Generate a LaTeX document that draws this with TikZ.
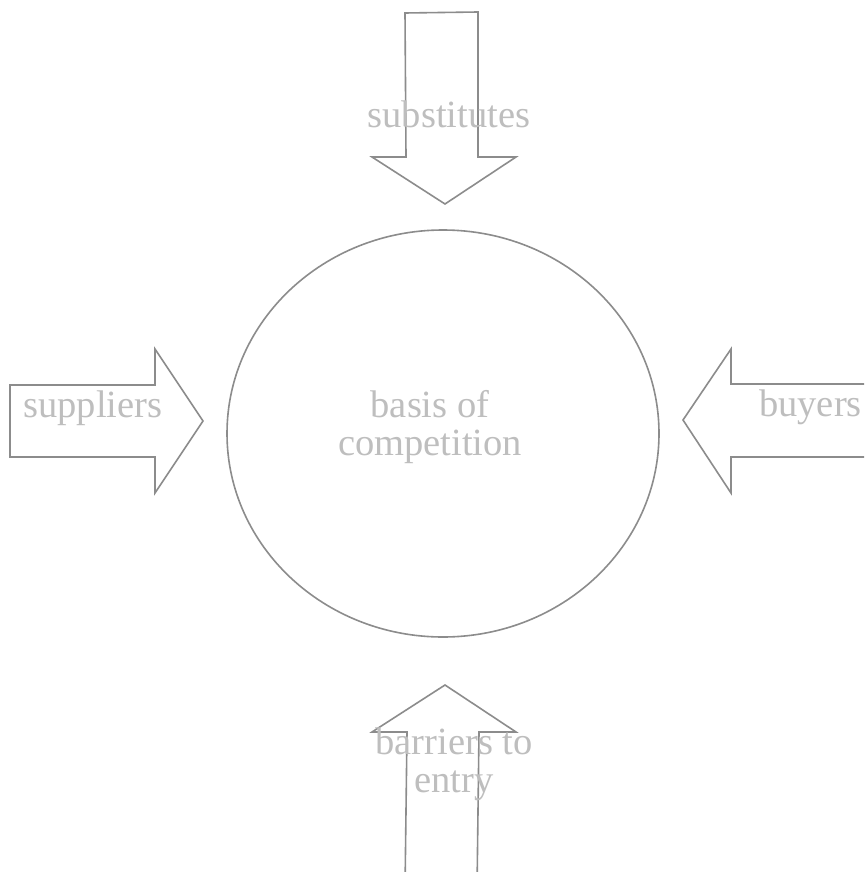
\documentclass[tikz,border=0pt]{standalone}
\usepackage{fontspec}
\setmainfont{Liberation Serif}
\usetikzlibrary{shapes.geometric}
\definecolor{forceline}{RGB}{140,140,140}
\definecolor{forcetext}{RGB}{190,190,190}
\tikzset{
  forcearrow/.style={draw=forceline,line width=1.6pt,line join=miter,fill=white},
  forcelabel/.style={font=\fontsize{38.5}{38}\selectfont,text=forcetext,inner sep=0pt,align=center},
}

\begin{document}
\begin{tikzpicture}[x=1pt,y=-1pt]
  \fill[white] (0,0) rectangle (864,872);
  \useasboundingbox (0,0) rectangle (864,872);
  \clip (0,0) rectangle (864,872);
  % central market
  \node[draw=forceline,line width=1.6pt,ellipse,minimum width=432pt,minimum height=407pt,
        inner sep=0pt] (market) at (443,433.5) {};
  % the four forces
  \draw[forcearrow] (405,13) -- (478,12) -- (478,157) -- (516,157) -- (445,204)
    -- (372,157) -- (406,157) -- cycle;
  \draw[forcearrow] (10,385) -- (155,385) -- (155,349) -- (203,421) -- (155,493)
    -- (155,457) -- (10,457) -- cycle;
  \draw[forcearrow] (880,384) -- (731,384) -- (731,349) -- (683,420) -- (731,493)
    -- (731,457) -- (880,457) -- cycle;
  \draw[forcearrow] (405,890) -- (407,732) -- (372,732) -- (445,685) -- (516,732)
    -- (479,732) -- (477,890) -- cycle;
  % labels
  \node[forcelabel,anchor=base] (basis) at (430,455) {basis of\\competition};
  \node[forcelabel,anchor=base] (substitutes) at (449,128) {substitutes};
  \node[forcelabel,anchor=base] (suppliers) at (93,417) {suppliers};
  \node[forcelabel,anchor=base east] (buyers) at (862,416) {buyers};
  \node[forcelabel,anchor=base] (barriers) at (454,792) {barriers to\\entry};
\end{tikzpicture}
\end{document}
